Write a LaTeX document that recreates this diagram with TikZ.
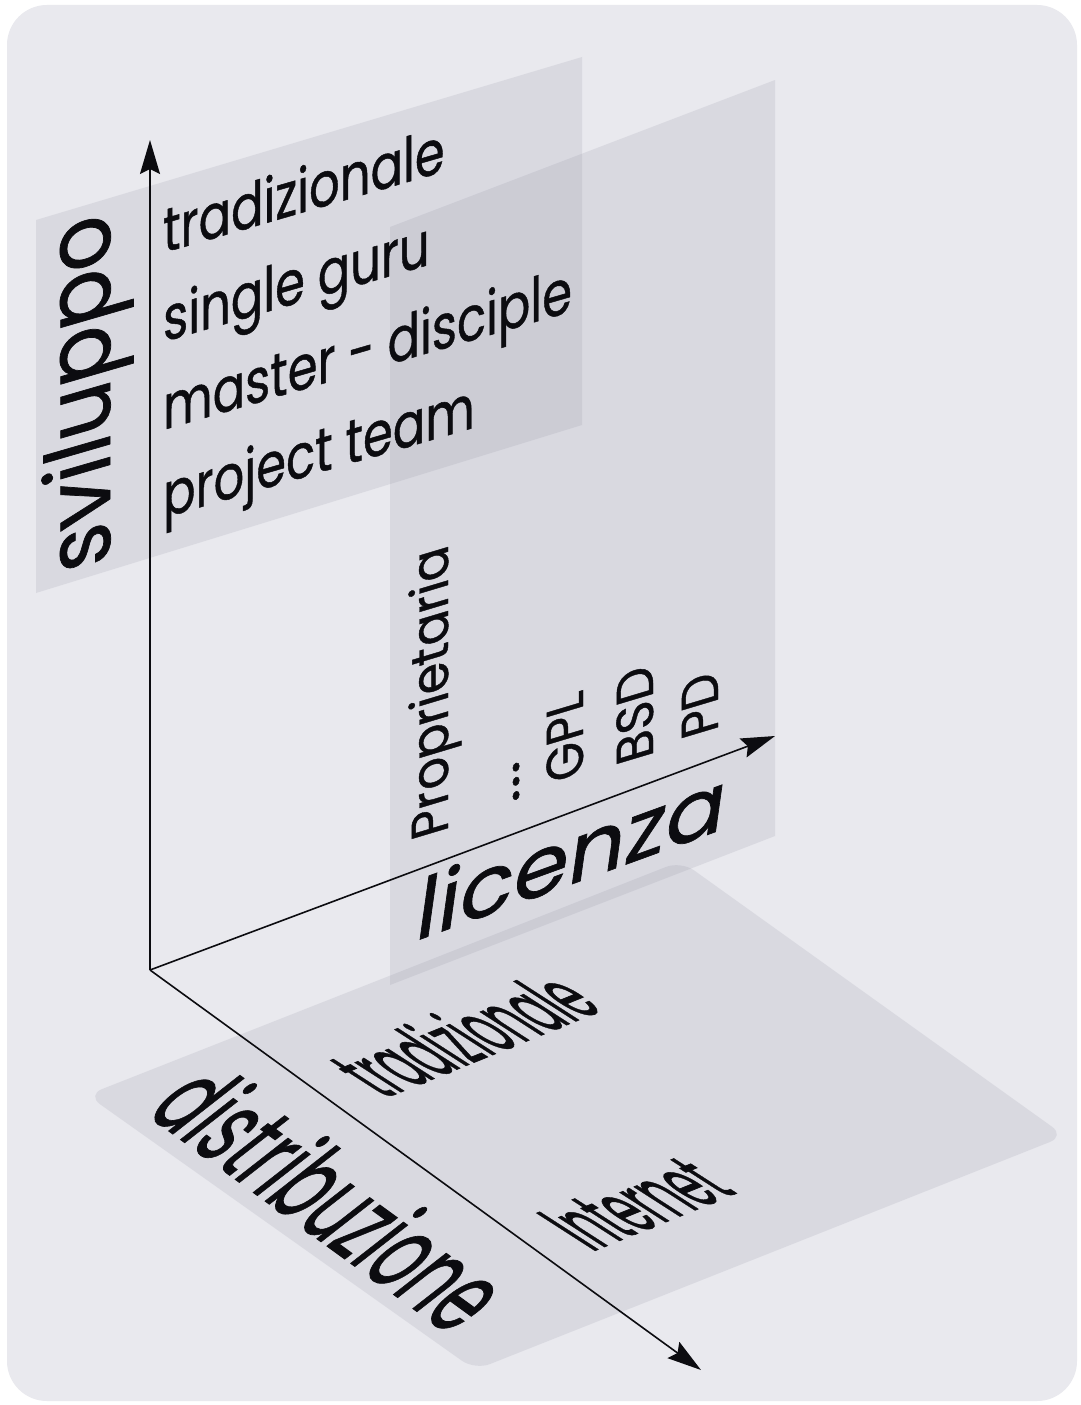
\documentclass[tikz,border=0pt]{standalone}
\usepackage{fontspec}
\setmainfont{Poppins}[FakeBold=0.8]
\usetikzlibrary{arrows.meta}
\definecolor{bgcol}{RGB}{233,233,238}
\definecolor{planecol}{RGB}{130,130,150}
\definecolor{ink}{RGB}{12,12,16}
\newcommand\skewlabel[5]{%
  \begin{scope}[shift={#2}]
    \node[lab, cm={#3,(0,0)}, font={\fontsize{#4}{#4}\selectfont}] (#1) at (0,0) {#5};
  \end{scope}}
\tikzset{
  lab/.style={inner sep=0pt, anchor=base west, text=ink, transform shape},
  plane/.style={fill=planecol, fill opacity=0.15},
  axisline/.style={draw=ink, line width=1.6pt},
  axistip/.tip={Stealth[length=34pt,width=20pt,inset=5pt]}
}
\begin{document}
\begin{tikzpicture}[x=1pt,y=-1pt]
\useasboundingbox (0,0) rectangle (1081,1405);
\fill[white] (0,0) rectangle (1081,1405);
\fill[bgcol, rounded corners=40pt] (7,5) rectangle (1077,1401);
% planes
\fill[plane, rounded corners=16pt] (87,1095) -- (681,861) -- (1065,1136) -- (475,1370) -- cycle;
\fill[plane] (390,227) -- (775,80) -- (775,836) -- (390,985) -- cycle;
\fill[plane] (36,220) -- (582,57) -- (582,425) -- (36,593) -- cycle;
% axes
\coordinate (O) at (150,970);
\coordinate (ytip) at (150,140);
\coordinate (ltip) at (775,736);
\coordinate (dtip) at (701,1370);
\draw[axisline, -axistip] (O) -- (ytip);
\draw[axisline, -axistip] (O) -- (ltip);
\draw[axisline, -axistip] (O) -- (dtip);
% sviluppo plane
\skewlabel{svil}{(110,562)}{0,0.93,-1,-0.29}{90}{sviluppo}
\skewlabel{s1}{(163,253)}{0.775,0.225,0,1}{62}{tradizionale}
\skewlabel{s2}{(163,342)}{0.775,0.225,0,1}{62}{single guru}
\skewlabel{s3}{(163,430)}{0.775,0.225,0,1}{62}{master - disciple}
\skewlabel{s4}{(163,518)}{0.775,0.225,0,1}{62}{project team}
% licenza plane
\skewlabel{l1}{(448,832)}{0,0.95,-1,-0.3}{52}{Proprietaria}
\skewlabel{l2}{(519,802)}{0,1.3,-1,-0.3}{52}{...}
\skewlabel{l3}{(583,775)}{0,0.92,-1,-0.3}{52}{GPL}
\skewlabel{l4}{(653,757)}{0,0.95,-1,-0.3}{52}{BSD}
\skewlabel{l5}{(718,731)}{0,0.92,-1,-0.3}{52}{PD}
\skewlabel{lic}{(413,942)}{1.03,0.375,0.14,1}{86}{licenza}
% floor
\skewlabel{dist}{(144,1113)}{0.396,-0.288,0.788,0.616}{122}{distribuzione}
\skewlabel{f1}{(384,1099)}{0.378,0.153,-0.84,0.54}{100}{tradizionale}
\skewlabel{f2}{(592,1252)}{0.378,0.153,-0.84,0.54}{100}{Internet}
\end{tikzpicture}
\end{document}
